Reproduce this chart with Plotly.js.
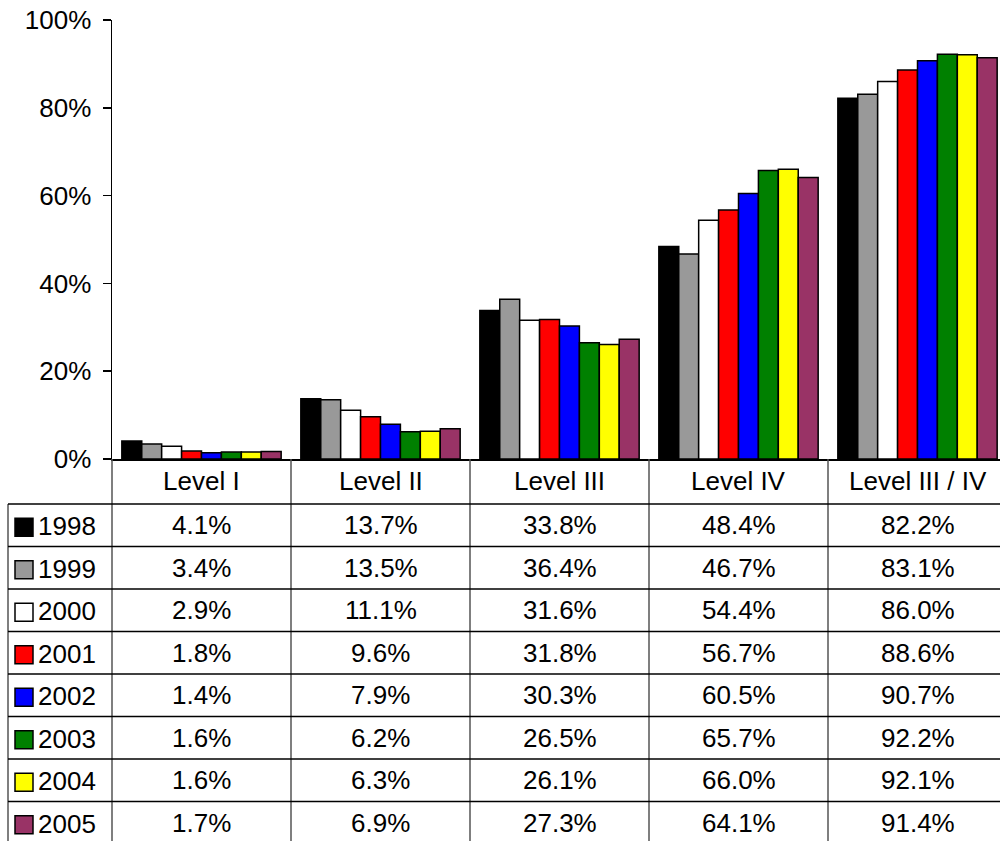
<!DOCTYPE html>
<html>
<head>
<meta charset="utf-8">
<script src="https://cdn.plot.ly/plotly-3.0.1.min.js"></script>
<style>body{margin:0;overflow:hidden}#chart{width:1007px;height:841px}</style>
</head>
<body>
<div id="chart"></div>
<script>
const levels = ['Level I', 'Level II', 'Level III', 'Level IV', 'Level III / IV']
const years = ['1998', '1999', '2000', '2001', '2002', '2003', '2004', '2005']
const colors = ['#000000', '#999999', '#ffffff', '#ff0000', '#0000ff', '#008000', '#ffff00', '#993366']
const yTicks = [0, 20, 40, 60, 80, 100]
const v1998 = [4.1, 13.7, 33.8, 48.4, 82.2]
const v1999 = [3.4, 13.5, 36.4, 46.7, 83.1]
const v2000 = [2.9, 11.1, 31.6, 54.4, 86.0]
const v2001 = [1.8, 9.6, 31.8, 56.7, 88.6]
const v2002 = [1.4, 7.9, 30.3, 60.5, 90.7]
const v2003 = [1.6, 6.2, 26.5, 65.7, 92.2]
const v2004 = [1.6, 6.3, 26.1, 66.0, 92.1]
const v2005 = [1.7, 6.9, 27.3, 64.1, 91.4]
const series = [v1998, v1999, v2000, v2001, v2002, v2003, v2004, v2005]

const font = 'Liberation Sans, Arial, sans-serif'
const W = 1007, H = 841, L = 112, T = 20, B = 459
const px = x => (x - L) / (W - L)
const py = y => (B - y) / (B - T)
const rowH = 42.5, tableTop = 504

const traces = series.map((vals, i) => ({
    x: levels,
    y: vals,
    type: 'bar',
    name: years[i],
    marker: { color: colors[i], line: { color: '#000', width: 1.5 } },
    hoverinfo: 'none'
}))

const shapes = []
const annotations = []
const line = (x0, y0, x1, y1, color, xref) => shapes.push({
    type: 'line', xref: xref || 'paper', yref: 'paper',
    x0: x0, x1: x1, y0: y0, y1: y1, line: { color: color, width: 1.5 }
})
const label = (x, xref, y, text, xanchor) => annotations.push({
    x: x, xref: xref, y: y, yref: 'paper', xanchor: xanchor || 'center', yanchor: 'middle',
    text: text, showarrow: false, font: { family: font, size: 26, color: '#000' }
})

// vertical lines
line(0, py(B), 0, py(H + 5), '#555')
line(px(8), py(tableTop), px(8), py(H + 5), '#555')
for (let i = 0; i < levels.length - 1; i++) line(i + 0.5, py(B), i + 0.5, py(H + 5), '#555', 'x')
// horizontal lines
for (let r = 0; r < years.length; r++) {
    const y = tableTop + r * rowH
    line(px(8), py(y), px(W), py(y), '#000')
}

levels.forEach((lv, c) => label(c, 'x', py((B + tableTop) / 2), lv))

years.forEach((yr, r) => {
    const cy = tableTop + r * rowH + rowH / 2
    shapes.push({
        type: 'rect', xref: 'paper', yref: 'paper',
        x0: px(15), x1: px(33), y0: py(cy - 9 + 2), y1: py(cy + 9 + 2),
        fillcolor: colors[r], line: { color: '#000', width: 1.5 }
    })
    label(px(36), 'paper', py(cy + 1), yr, 'left')
    series[r].forEach((v, c) => label(c, 'x', py(cy), v.toFixed(1) + '%'))
})

const layout = {
    width: W, height: H,
    margin: { l: L, r: 0, t: T, b: H - B, pad: 0 },
    paper_bgcolor: '#fff', plot_bgcolor: '#fff',
    barmode: 'group', bargap: 0.11, bargroupgap: 0,
    showlegend: false,
    xaxis: {
        type: 'category', range: [-0.5, 4.5], showticklabels: false, ticks: '',
        showline: true, linecolor: '#000', linewidth: 1.5, showgrid: false, zeroline: false
    },
    yaxis: {
        range: [0, 100], tickmode: 'array', tickvals: yTicks, ticktext: yTicks.map(t => t + '%'),
        ticks: 'outside', ticklen: 8, tickcolor: '#000', tickwidth: 1.5, ticklabelstandoff: 6,
        showline: true, linecolor: '#000', linewidth: 1.5, showgrid: false, zeroline: false,
        tickfont: { family: font, size: 26, color: '#000' }
    },
    shapes: shapes,
    annotations: annotations
}

Plotly.newPlot('chart', traces, layout, { displayModeBar: false, staticPlot: true })
</script>
</body>
</html>
